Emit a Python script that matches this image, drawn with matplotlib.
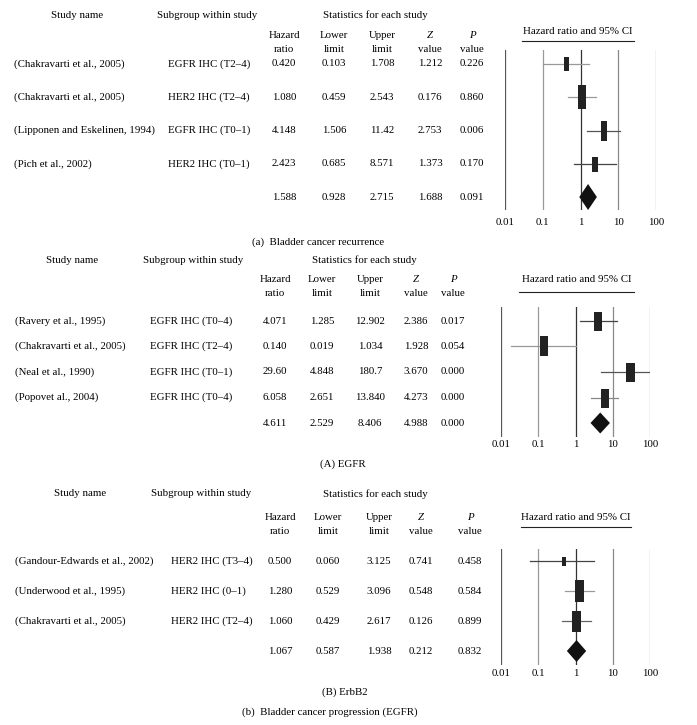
import numpy as np
import matplotlib
matplotlib.use('Agg')
import matplotlib.pyplot as plt
from matplotlib.lines import Line2D

plt.rcParams['font.family'] = ['Liberation Serif', 'DejaVu Serif']

W, H = 697, 725

# (a) bladder cancer recurrence
rec_studies = ['(Chakravarti et al., 2005)', '(Chakravarti et al., 2005)',
               '(Lipponen and Eskelinen, 1994)', '(Pich et al., 2002)']
rec_subgroups = ['EGFR IHC (T2–4)', 'HER2 IHC (T2–4)', 'EGFR IHC (T0–1)', 'HER2 IHC (T0–1)']
rec_hr = ['0.420', '1.080', '4.148', '2.423', '1.588']
rec_lower = ['0.103', '0.459', '1.506', '0.685', '0.928']
rec_upper = ['1.708', '2.543', '11.42', '8.571', '2.715']
rec_z = ['1.212', '0.176', '2.753', '1.373', '1.688']
rec_p = ['0.226', '0.860', '0.006', '0.170', '0.091']

# (A) EGFR
egfr_studies = ['(Ravery et al., 1995)', '(Chakravarti et al., 2005)',
                '(Neal et al., 1990)', '(Popovet al., 2004)']
egfr_subgroups = ['EGFR IHC (T0–4)', 'EGFR IHC (T2–4)', 'EGFR IHC (T0–1)', 'EGFR IHC (T0–4)']
egfr_hr = ['4.071', '0.140', '29.60', '6.058', '4.611']
egfr_lower = ['1.285', '0.019', '4.848', '2.651', '2.529']
egfr_upper = ['12.902', '1.034', '180.7', '13.840', '8.406']
egfr_z = ['2.386', '1.928', '3.670', '4.273', '4.988']
egfr_p = ['0.017', '0.054', '0.000', '0.000', '0.000']

# (B) ErbB2
erbb2_studies = ['(Gandour-Edwards et al., 2002)', '(Underwood et al., 1995)',
                 '(Chakravarti et al., 2005)']
erbb2_subgroups = ['HER2 IHC (T3–4)', 'HER2 IHC (0–1)', 'HER2 IHC (T2–4)']
erbb2_hr = ['0.500', '1.280', '1.060', '1.067']
erbb2_lower = ['0.060', '0.529', '0.429', '0.587']
erbb2_upper = ['3.125', '3.096', '2.617', '1.938']
erbb2_z = ['0.741', '0.548', '0.126', '0.212']
erbb2_p = ['0.458', '0.584', '0.899', '0.832']

axis_ticks = [0.01, 0.1, 1, 10, 100]
axis_labels = ['0.01', '0.1', '1', '10', '100']

FS = 7.8

#layout of each panel in pixels
layouts = [
    dict(head_y=15, col_y=(36, 50), head_x=(77, 207, 375), study_x=14, sub_x=168,
         col_x=(284, 334, 382, 430, 472), row0=64, step=33.25,
         ci_title=(578, 32), ci_line=(522, 634, 41),
         x_lo=505, x_hi=656, line_top=50, line_bot=210, pad=6,
         box=[(5, 14), (8, 24), (7, 20), (6, 15)], diamond_h=26,
         ci_colors=['#999999', '#999999', '#555555', '#444444'],
         captions=[('(a)  Bladder cancer recurrence', 318, 242)]),
    dict(head_y=260, col_y=(280, 294), head_x=(72, 193, 364), study_x=15, sub_x=150,
         col_x=(275, 322, 370, 416, 453), row0=321, step=25.5,
         ci_title=(577, 279), ci_line=(519, 634, 292),
         x_lo=501, x_hi=650, line_top=307, line_bot=437, pad=2,
         box=[(8, 19), (9, 20), (9, 19), (8, 19)], diamond_h=21,
         ci_colors=['#444444', '#999999', '#555555', '#888888'],
         captions=[('(A) EGFR', 343, 464)]),
    dict(head_y=494, col_y=(517, 531), head_x=(80, 201, 375), study_x=15, sub_x=171,
         col_x=(280, 328, 379, 421, 470), row0=561, step=30,
         ci_title=(576, 517), ci_line=(521, 631, 527),
         x_lo=501, x_hi=650, line_top=549, line_bot=665, pad=3,
         box=[(4, 9), (9, 22), (9, 21)], diamond_h=22,
         ci_colors=['#444444', '#999999', '#666666'],
         captions=[('(B) ErbB2', 345, 692), ('(b)  Bladder cancer progression (EGFR)', 330, 712)]),
]

ref_colors = ['#555555', '#999999', '#333333', '#888888', '#999999']


def txt(fig, x, y, s, **kw):
    fig.text(x / W, 1 - y / H, s, fontsize=FS, va='center', **kw)


def draw_panel(fig, studies, subgroups, cols, lay):
    hx = lay['head_x']
    txt(fig, hx[0], lay['head_y'], 'Study name', ha='center')
    txt(fig, hx[1], lay['head_y'], 'Subgroup within study', ha='center')
    txt(fig, hx[2], lay['head_y'], 'Statistics for each study', ha='center')
    heads = [('Hazard', 'ratio'), ('Lower', 'limit'), ('Upper', 'limit'), ('Z', 'value'), ('P', 'value')]
    for i, (h1, h2) in enumerate(heads):
        style = 'italic' if i >= 3 else 'normal'
        txt(fig, lay['col_x'][i], lay['col_y'][0], h1, ha='center', style=style)
        txt(fig, lay['col_x'][i], lay['col_y'][1], h2, ha='center')

    n = len(cols[0])
    rows_y = lay['row0'] + lay['step'] * np.arange(n)
    for i, y in enumerate(rows_y):
        if i < len(studies):
            txt(fig, lay['study_x'], y, studies[i], ha='left')
            txt(fig, lay['sub_x'], y, subgroups[i], ha='left')
        for j, c in enumerate(cols):
            txt(fig, lay['col_x'][j], y, c[i], ha='center')

    #hazard ratio title with rule underneath
    cx, cy = lay['ci_title']
    txt(fig, cx, cy, 'Hazard ratio and 95% CI', ha='center')
    x0, x1, ly = lay['ci_line']
    fig.add_artist(Line2D([x0 / W, x1 / W], [1 - ly / H] * 2, color='#222222', lw=0.8,
                          transform=fig.transFigure))

    #forest plot
    ax = fig.add_axes([lay['x_lo'] / W, 1 - lay['line_bot'] / H,
                       (lay['x_hi'] - lay['x_lo']) / W, (lay['line_bot'] - lay['line_top']) / H])
    ax.set_xscale('log')
    ax.set_xlim(0.01, 100)
    ax.set_ylim(n - 1 + (lay['line_bot'] - rows_y[-1]) / lay['step'],
                -(rows_y[0] - lay['line_top']) / lay['step'])
    for s in ax.spines.values():
        s.set_visible(False)
    ax.patch.set_alpha(0)
    ax.set_yticks([])
    ax.set_xticks(axis_ticks)
    ax.set_xticklabels(axis_labels)
    ax.minorticks_off()
    ax.tick_params(axis='x', length=0, pad=lay['pad'], labelsize=FS)
    for v, c in zip(axis_ticks, ref_colors):
        ax.axvline(v, color=c, lw=0.9, zorder=1)

    hr = np.array(cols[0], float)
    lo = np.array(cols[1], float)
    hi = np.array(cols[2], float)
    for i in range(n - 1):
        ax.plot([lo[i], hi[i]], [i, i], color=lay['ci_colors'][i], lw=0.9, zorder=2)
        w, h = lay['box'][i]
        verts = [(-w, -h), (w, -h), (w, h), (-w, h), (-w, -h)]
        ax.plot(hr[i], i, marker=verts, ms=h * 0.72, mew=0, color='#222222', zorder=3)
    k = n - 1
    dh = lay['diamond_h'] / 2 / lay['step']
    ax.fill([lo[k], hr[k], hi[k], hr[k]], [k, k - dh, k, k + dh], color='#111111', lw=0, zorder=3)

    for s, x, y in lay['captions']:
        txt(fig, x, y, s, ha='center')


fig = plt.figure(figsize=(W / 100, H / 100), dpi=100)

draw_panel(fig, rec_studies, rec_subgroups,
           [rec_hr, rec_lower, rec_upper, rec_z, rec_p], layouts[0])
draw_panel(fig, egfr_studies, egfr_subgroups,
           [egfr_hr, egfr_lower, egfr_upper, egfr_z, egfr_p], layouts[1])
draw_panel(fig, erbb2_studies, erbb2_subgroups,
           [erbb2_hr, erbb2_lower, erbb2_upper, erbb2_z, erbb2_p], layouts[2])

fig.savefig('out.png', dpi=100)
